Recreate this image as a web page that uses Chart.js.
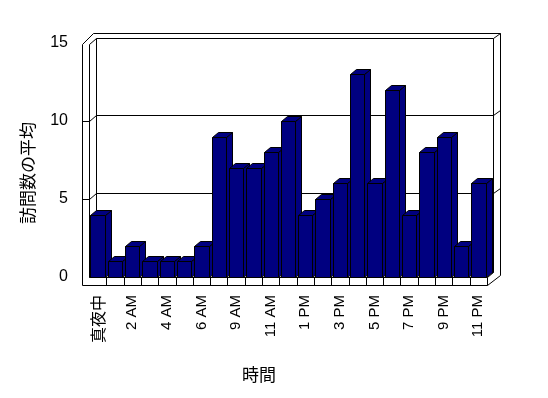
<!DOCTYPE html>
<html>
<head>
<meta charset="utf-8">
<script src="https://cdn.jsdelivr.net/npm/chart.js@4/dist/chart.umd.min.js"></script>
<style>
body{margin:0;background:#fff}
</style>
</head>
<body>
<canvas id="myChart" width="548" height="398"></canvas>
<script>
// horas del dia (falta una hora en los datos)
const horas = ['真夜中','1 AM','2 AM','3 AM','4 AM','5 AM','6 AM','7 AM','9 AM','10 AM','11 AM','正午',
  '1 PM','2 PM','3 PM','4 PM','5 PM','6 PM','7 PM','8 PM','9 PM','10 PM','11 PM']
const visitas = [4,1,2,1,1,1,2,9,7,7,8,10,4,5,6,13,6,12,4,8,9,2,6]
const yTicks = [0,5,10,15]
const tituloY = '訪問数の平均'
const tituloX = '時間'

const azul = '#000080'
const dx = 6, dy = 5

function linea(ctx, x1, y1, x2, y2){
  ctx.beginPath()
  ctx.moveTo(Math.round(x1)+0.5, Math.round(y1)+0.5)
  ctx.lineTo(Math.round(x2)+0.5, Math.round(y2)+0.5)
  ctx.stroke()
}

const caja3d = {
  id: 'caja3d',
  beforeDraw(chart){
    const ctx = chart.ctx
    ctx.save()
    ctx.fillStyle = '#fff'
    ctx.fillRect(0,0,chart.width,chart.height)
    ctx.restore()
  },
  beforeDatasetsDraw(chart){
    const ctx = chart.ctx
    const a = chart.chartArea
    const L = a.left, R = a.right, T = a.top, B = a.bottom
    const y = chart.scales.y
    ctx.save()
    ctx.strokeStyle = '#000'
    ctx.lineWidth = 1
    // paredes
    linea(ctx, L-7, T+1, L-7, B+8)
    linea(ctx, L, T+1, L, B)
    linea(ctx, L-7, T+1, L+4, T-10)
    linea(ctx, L, T+1, L+7, T-5)
    linea(ctx, L+4, T-10, R+13, T-10)
    linea(ctx, L+7, T-5, R+6, T-5)
    linea(ctx, R+6, T-5, R+13, T-10)
    linea(ctx, R+13, T-10, R+13, B-2)
    linea(ctx, R+6, T-5, R+6, B-5)
    linea(ctx, L+7, T-5, L+7, B-5)
    // suelo
    linea(ctx, L-7, B+8, R, B+8)
    linea(ctx, L, B, R, B)
    linea(ctx, R, B, R, B+8)
    linea(ctx, R, B+8, R+13, B-2)
    linea(ctx, R, B, R+6, B-5)
    linea(ctx, L, B, L+7, B-5)
    linea(ctx, L+7, B-5, R+6, B-5)
    const n = horas.length
    for(let k=1;k<n;k++){
      const x = L + k*(R-L)/n
      linea(ctx, x, B, x, B+8)
    }
    // lineas de division
    yTicks.forEach(v => {
      if(v==0 || v==15) return
      const py = y.getPixelForValue(v)
      linea(ctx, L-7, py, L, py)
      linea(ctx, L, py, L+7, py-6)
      linea(ctx, L+7, py-6, R+6, py-6)
      linea(ctx, R+6, py-6, R+13, py-11)
    })
    ctx.restore()
  },
  beforeDatasetDraw(chart, args){
    const ctx = chart.ctx
    const meta = args.meta
    ctx.save()
    ctx.fillStyle = azul
    ctx.strokeStyle = '#000'
    ctx.lineWidth = 1
    meta.data.forEach(b => {
      const l = Math.round(b.x - b.width/2)+0.5
      const r = Math.round(b.x + b.width/2)+0.5
      const t = Math.round(b.y)+0.5
      const bs = Math.round(b.base)+0.5
      // lado
      ctx.beginPath()
      ctx.moveTo(r,t); ctx.lineTo(r+dx,t-dy); ctx.lineTo(r+dx,bs-dy); ctx.lineTo(r,bs); ctx.closePath()
      ctx.fill(); ctx.stroke()
      // arriba
      ctx.beginPath()
      ctx.moveTo(l,t); ctx.lineTo(l+dx,t-dy); ctx.lineTo(r+dx,t-dy); ctx.lineTo(r,t); ctx.closePath()
      ctx.fill(); ctx.stroke()
      // frente
      ctx.beginPath()
      ctx.rect(l,t,r-l,bs-t)
      ctx.fill(); ctx.stroke()
    })
    ctx.restore()
    return false
  },
  afterDraw(chart){
    const ctx = chart.ctx
    ctx.save()
    ctx.fillStyle = '#000'
    ctx.font = '17px "Noto Sans CJK JP"'
    ctx.textAlign = 'center'
    ctx.textBaseline = 'middle'
    ctx.translate(28,173)
    ctx.rotate(-Math.PI/2)
    ctx.fillText(tituloY,0,0)
    ctx.restore()
    ctx.save()
    ctx.fillStyle = '#000'
    ctx.font = '17px "Noto Sans CJK JP"'
    ctx.textAlign = 'center'
    ctx.textBaseline = 'middle'
    ctx.fillText(tituloX,259,375)
    ctx.restore()
  }
}

Chart.defaults.color = '#000'
Chart.defaults.font.family = '"Liberation Sans", "Noto Sans CJK JP"'

const data = {
  labels: horas,
  datasets: [{
    label: tituloY,
    data: visitas,
    backgroundColor: azul,
    borderColor: '#000',
    borderWidth: 1,
    categoryPercentage: 1,
    barPercentage: 0.83
  }]
}

const config = {
  type: 'bar',
  data: data,
  options: {
    responsive: false,
    animation: false,
    layout: { padding: { left: 0, right: 61, top: 43, bottom: 0 } },
    plugins: { legend: { display: false }, tooltip: { enabled: false } },
    scales: {
      x: {
        grid: { display: false, drawTicks: false },
        border: { display: false },
        afterFit: s => { s.height = 121 },
        ticks: {
          autoSkip: false,
          minRotation: 90,
          maxRotation: 90,
          padding: 18,
          font: c => (c.index === 0 ? { size: 16, family: '"Noto Sans CJK JP"' } : { size: 15 }),
          callback: (v, i) => (i % 2 === 0 ? horas[i] : '')
        }
      },
      y: {
        min: 0,
        max: 15,
        grid: { display: false, drawTicks: false },
        border: { display: false },
        afterFit: s => { s.width = 89 },
        afterBuildTicks: s => { s.ticks = yTicks.map(v => ({ value: v })) },
        ticks: { padding: 21, font: { size: 16 } }
      }
    }
  },
  plugins: [caja3d]
}

var myChart = new Chart(document.getElementById('myChart'), config)
</script>
</body>
</html>
